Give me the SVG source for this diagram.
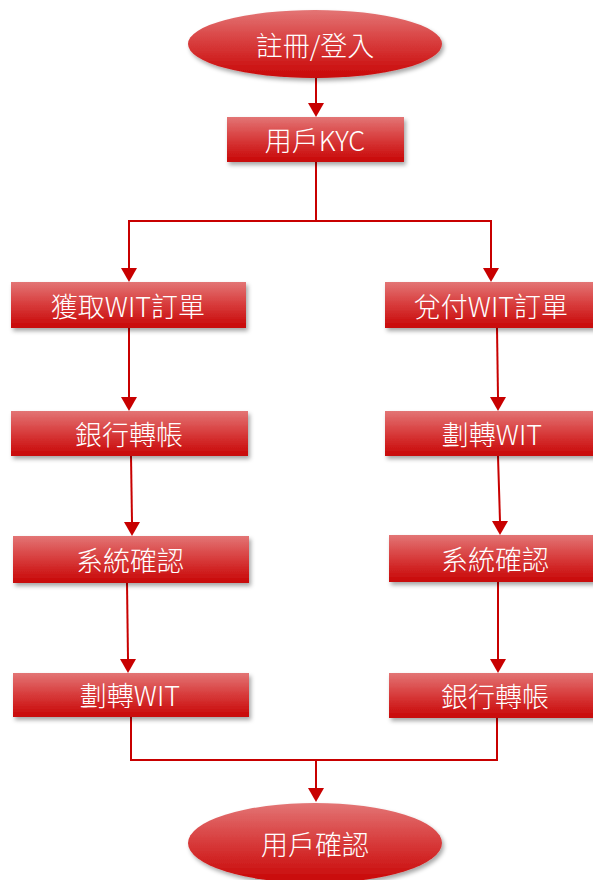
<svg xmlns="http://www.w3.org/2000/svg" width="593" height="880" viewBox="0 0 593 880">
<defs>
<linearGradient id="g" x1="0" y1="0" x2="0" y2="1">
<stop offset="0" stop-color="#e37575"/>
<stop offset="0.5" stop-color="#d73a3a"/>
<stop offset="1" stop-color="#c80606"/>
</linearGradient>
<filter id="sh" x="-10%" y="-20%" width="125%" height="150%">
<feDropShadow dx="2" dy="3" stdDeviation="2" flood-color="#000" flood-opacity="0.35"/>
</filter>
</defs>
<style>
.n{fill:url(#g);filter:url(#sh)}
.t{fill:#fff;font-family:"Noto Sans CJK TC","Noto Sans",sans-serif;font-size:27px;font-weight:300;text-anchor:middle;dominant-baseline:central}
.c{fill:none;stroke:#c80000;stroke-width:2}
.a{fill:#c80000}
</style>
<rect width="593" height="880" fill="#fff"/>
<g id="connectors">
<line class="c" x1="316" y1="78" x2="316" y2="103"/>
<path class="a" d="M308,103 L324,103 L316,117 Z"/>
<polyline class="c" points="316,162 316,221 129,221 129,268"/>
<polyline class="c" points="316,221 491,221 491,268"/>
<path class="a" d="M121,268 L137,268 L129,282 Z"/>
<path class="a" d="M483,268 L499,268 L491,282 Z"/>
<line class="c" x1="129" y1="328" x2="129" y2="397"/>
<path class="a" d="M121,397 L137,397 L129,411 Z"/>
<line class="c" x1="131" y1="456" x2="132" y2="522"/>
<path class="a" d="M124,522 L140,522 L132,536 Z"/>
<line class="c" x1="127" y1="583" x2="128" y2="659"/>
<path class="a" d="M120,659 L136,659 L128,673 Z"/>
<line class="c" x1="497" y1="328" x2="498" y2="397"/>
<path class="a" d="M490,397 L506,397 L498,411 Z"/>
<line class="c" x1="498" y1="456" x2="500" y2="521"/>
<path class="a" d="M492,521 L508,521 L500,535 Z"/>
<line class="c" x1="498" y1="582" x2="498" y2="659"/>
<path class="a" d="M490,659 L506,659 L498,673 Z"/>
<polyline class="c" points="131,717 131,760 497,760 497,718"/>
<line class="c" x1="316" y1="760" x2="316" y2="788"/>
<path class="a" d="M308,788 L324,788 L316,802 Z"/>
</g>
<g id="start"><ellipse class="n" cx="315" cy="44" rx="127" ry="34"/><text class="t" x="315" y="44">註冊/登入</text></g>
<g id="kyc"><rect class="n" x="227" y="117" width="177" height="45"/><text class="t" x="315" y="139">用戶KYC</text></g>
<g id="l1"><rect class="n" x="11" y="282" width="235" height="46"/><text class="t" x="128" y="305">獲取WIT訂單</text></g>
<g id="l2"><rect class="n" x="11" y="411" width="237" height="45"/><text class="t" x="129" y="433">銀行轉帳</text></g>
<g id="l3"><rect class="n" x="13" y="536" width="236" height="47"/><text class="t" x="130" y="559">系統確認</text></g>
<g id="l4"><rect class="n" x="13" y="673" width="236" height="44"/><text class="t" x="130" y="694">劃轉WIT</text></g>
<g id="r1"><rect class="n" x="385" y="282" width="230" height="46"/><text class="t" x="491" y="305">兌付WIT訂單</text></g>
<g id="r2"><rect class="n" x="385" y="411" width="230" height="45"/><text class="t" x="492" y="433">劃轉WIT</text></g>
<g id="r3"><rect class="n" x="389" y="535" width="226" height="47"/><text class="t" x="495" y="558">系統確認</text></g>
<g id="r4"><rect class="n" x="389" y="673" width="226" height="45"/><text class="t" x="495" y="695">銀行轉帳</text></g>
<g id="end"><ellipse class="n" cx="315" cy="843" rx="127" ry="40"/><text class="t" x="315" y="843">用戶確認</text></g>
</svg>
